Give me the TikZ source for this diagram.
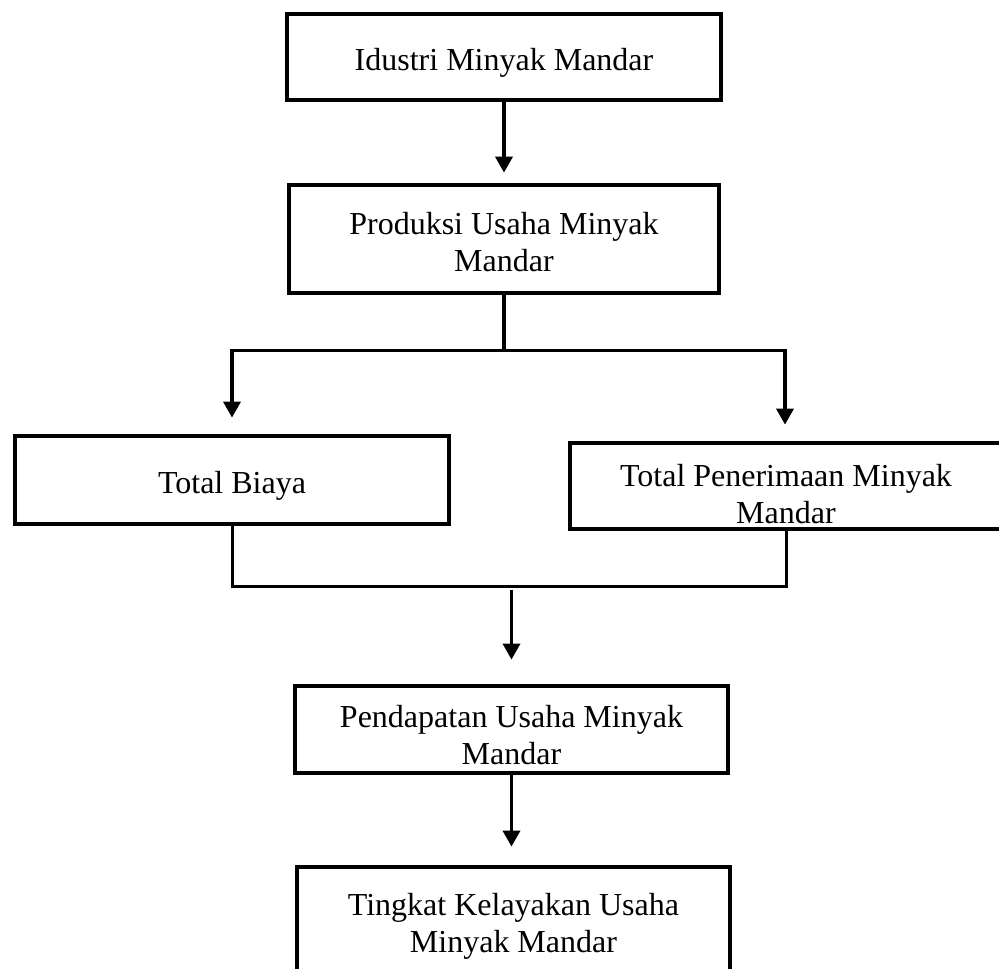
\documentclass[tikz,border=0pt]{standalone}
\usepackage{fontspec}
\setmainfont{Liberation Serif}
\usetikzlibrary{arrows.meta,calc}
\newcommand{\lowr}[1]{\rule{0pt}{#1}}
\begin{document}
\begin{tikzpicture}[x=1pt,y=-1pt,
  box/.style={draw=black, line width=4.8pt, rectangle, align=center,
    inner sep=2pt, font=\fontsize{32}{37}\selectfont},
  link/.style={draw=black, line width=3.6pt},
  arr/.style={link, -{Triangle[width=17pt,length=16pt]}}]
\useasboundingbox (0,0) rectangle (999,969);
\node[box, minimum width=434pt, minimum height=86pt] (b1) at (504,57) {\lowr{34pt}Idustri Minyak Mandar};
\node[box, minimum width=430pt, minimum height=108pt] (b2) at (504,239) {\lowr{28pt}Produksi Usaha Minyak\\Mandar};
\node[box, minimum width=434pt, minimum height=88pt] (b3) at (232,480) {\lowr{34pt}Total Biaya};
\node[box, minimum width=432pt, minimum height=86pt] (b4) at (786,486) {\lowr{38pt}Total Penerimaan Minyak\\Mandar};
\node[box, minimum width=433pt, minimum height=87pt] (b5) at (511.5,729.5) {\lowr{34pt}Pendapatan Usaha Minyak\\Mandar};
\node[box, minimum width=433pt, minimum height=118pt] (b6) at (513.5,926) {Tingkat Kelayakan Usaha\\Minyak Mandar};
% top arrow
\draw[arr, shorten >=10pt] (b1.south) -- (b1.south |- b2.north);
% split
\coordinate (j1) at ($(b2.south)+(0,55)$);
\draw[link] (b2.south) -- (j1);
\coordinate (jl) at (b3.north |- j1);
\coordinate (jr) at ([xshift=-1pt]b4.north |- j1);
\draw[link, line cap=rect] (jl) -- (jr);
\draw[arr, shorten >=16pt] (jl) -- (b3.north);
\draw[arr, shorten >=16pt] (jr) -- ([xshift=-1pt]b4.north);
% merge
\coordinate (ml) at ($(b3.south)+(0,60)$);
\coordinate (mr) at (b4.south |- ml);
\draw[link, line width=3pt] (b3.south) -- (ml) -- (mr) -- (b4.south);
\coordinate (ms) at (b5.north |- 0,590);
\draw[arr, shorten >=24pt] (ms) -- (b5.north);
% bottom arrow
\draw[arr, shorten >=18pt] (b5.south) -- (b5.south |- b6.north);
\end{tikzpicture}
\end{document}
